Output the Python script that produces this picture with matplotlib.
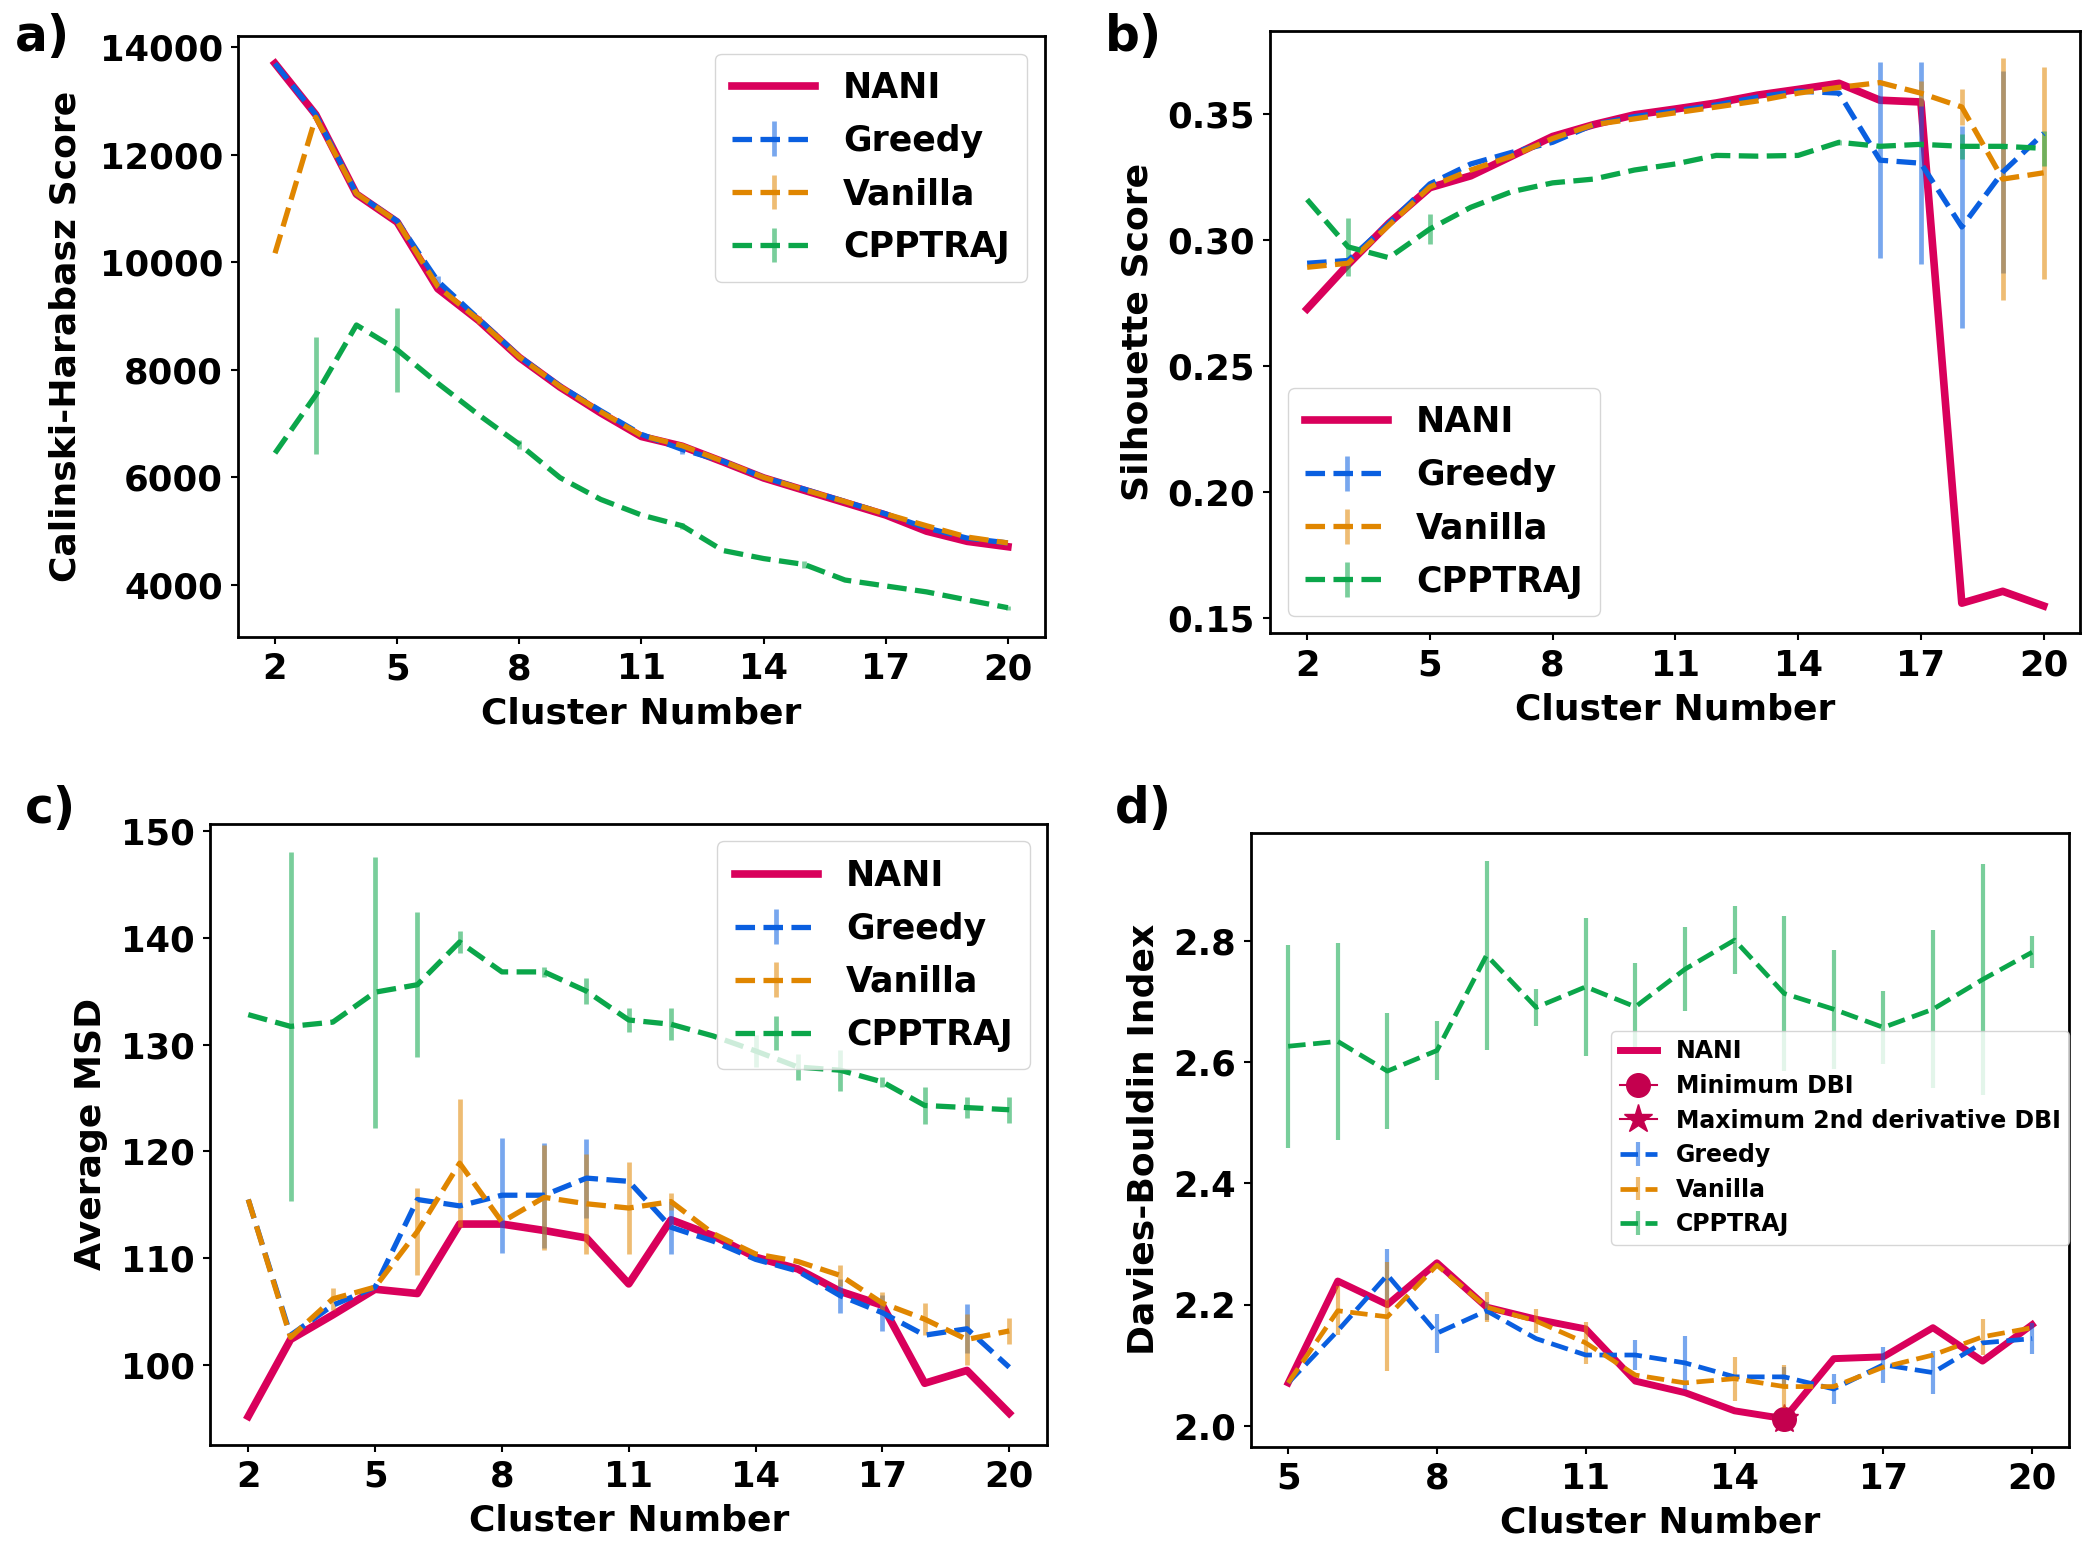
import matplotlib
matplotlib.use('Agg')
import matplotlib.pyplot as plt
from matplotlib.colors import to_rgba
from matplotlib.ticker import FormatStrFormatter

#colours of the four methods
NANI_COLOR = '#D9005B'
GREEDY_COLOR = '#0A5FE0'
VANILLA_COLOR = '#E08600'
CPPTRAJ_COLOR = '#0BA64A'
MARKER_COLOR = '#C4004E'

K_ALL = list(range(2, 21))      #cluster numbers for a), b), c)
K_DBI = list(range(5, 21))      #cluster numbers for d)

# a) Calinski-Harabasz
ch_nani = [13700, 12750, 11270, 10750, 9510, 8920, 8230, 7680, 7200, 6760,
           6580, 6290, 5990, 5760, 5530, 5300, 5000, 4810, 4710]
ch_greedy = [13700, 12750, 11280, 10770, 9650, 8950, 8250, 7700, 7240, 6800,
             6520, 6300, 6000, 5780, 5550, 5320, 5060, 4870, 4780]
ch_greedy_err = [0, 0, 0, 0, 100, 0, 0, 0, 0, 0, 80, 0, 0, 0, 0, 0, 0, 0, 0]
ch_vanilla = [10170, 12700, 11280, 10760, 9550, 8930, 8240, 7690, 7220, 6780,
              6590, 6300, 6000, 5770, 5550, 5320, 5100, 4890, 4780]
ch_vanilla_err = [0, 0, 0, 0, 0, 80, 0, 0, 0, 0, 0, 0, 0, 0, 0, 0, 0, 0, 0]
ch_cpp = [6450, 7530, 8835, 8375, 7750, 7165, 6615, 5995, 5590, 5300,
          5100, 4640, 4490, 4380, 4090, 3980, 3870, 3720, 3575]
ch_cpp_err = [0, 1090, 0, 780, 0, 0, 80, 0, 0, 0, 60, 0, 0, 60, 0, 0, 0, 0, 40]

# b) Silhouette
sil_nani = [0.2727, 0.2903, 0.3067, 0.3208, 0.3255, 0.3333, 0.3411, 0.3458, 0.3497,
            0.3520, 0.3544, 0.3575, 0.3598, 0.3622, 0.3555, 0.3548, 0.1559, 0.1606, 0.1548]
sil_greedy = [0.2908, 0.2919, 0.3067, 0.3223, 0.3302, 0.3348, 0.3388, 0.3458, 0.3490,
              0.3513, 0.3536, 0.3567, 0.3591, 0.3583, 0.3317, 0.3305, 0.3052, 0.3270, 0.3423]
sil_greedy_err = [0, 0, 0, 0, 0, 0, 0, 0, 0, 0, 0, 0, 0, 0, 0.039, 0.040, 0.040, 0.040, 0.0]
sil_vanilla = [0.2892, 0.2908, 0.3059, 0.3211, 0.3278, 0.3333, 0.3403, 0.3458, 0.3481,
               0.3505, 0.3528, 0.3552, 0.3583, 0.3606, 0.3625, 0.3583, 0.3528, 0.3242, 0.3267]
sil_vanilla_err = [0, 0, 0, 0, 0, 0, 0, 0, 0, 0, 0, 0, 0, 0, 0, 0.005, 0.007, 0.048, 0.042]
sil_cpp = [0.3161, 0.2973, 0.2930, 0.3044, 0.3130, 0.3192, 0.3227, 0.3242, 0.3278,
           0.3302, 0.3336, 0.3333, 0.3336, 0.3388, 0.3372, 0.3380, 0.3372, 0.3372, 0.3364]
sil_cpp_err = [0, 0.0115, 0, 0.006, 0, 0, 0, 0, 0, 0, 0, 0, 0, 0.001, 0, 0.001, 0.005, 0.001, 0.007]

# c) Average MSD
msd_nani = [95.2, 102.4, 104.7, 107.1, 106.7, 113.2, 113.2, 112.6, 111.9, 107.6,
            113.6, 112.1, 110.1, 109.0, 106.9, 105.6, 98.3, 99.5, 95.5]
msd_greedy = [115.5, 102.8, 105.6, 107.3, 115.5, 114.9, 115.9, 115.9, 117.5, 117.2,
              112.9, 111.6, 109.9, 108.8, 106.5, 104.9, 102.8, 103.4, 99.8]
msd_greedy_err = [0, 0, 0, 0, 0, 0, 5.4, 4.9, 3.7, 0, 2.5, 0, 0, 0, 1.6, 1.7, 0, 2.3, 0]
msd_vanilla = [115.5, 102.6, 106.2, 107.3, 112.5, 118.9, 113.4, 115.7, 115.1, 114.7,
               115.3, 112.3, 110.4, 109.7, 108.4, 105.8, 104.3, 102.4, 103.2]
msd_vanilla_err = [0, 0, 1.0, 0, 4.1, 6.0, 0, 4.9, 4.7, 4.3, 0.8, 0, 0, 0, 1.0, 1.0, 1.5, 2.4, 1.2]
msd_cpp = [132.8, 131.7, 132.1, 134.9, 135.6, 139.6, 136.8, 136.8, 135.0, 132.3,
           131.9, 130.8, 129.4, 127.9, 127.6, 126.5, 124.3, 124.1, 123.9]
msd_cpp_err = [0, 16.3, 0, 12.7, 6.8, 1.0, 0, 0.5, 1.2, 1.1, 1.5, 0, 1.5, 1.2, 1.9, 0.5, 1.7, 1.0, 1.2]

# d) Davies-Bouldin
dbi_nani = [2.071, 2.239, 2.200, 2.269, 2.196, 2.176, 2.160, 2.074, 2.055, 2.025,
            2.012, 2.111, 2.114, 2.162, 2.107, 2.167]
dbi_greedy = [2.071, 2.157, 2.249, 2.153, 2.190, 2.144, 2.117, 2.117, 2.104, 2.081,
              2.081, 2.061, 2.101, 2.088, 2.137, 2.144]
dbi_greedy_err = [0, 0, 0.042, 0.032, 0.015, 0, 0, 0.025, 0.045, 0, 0.016, 0.025, 0.030, 0.035, 0, 0.025]
dbi_vanilla = [2.071, 2.190, 2.180, 2.265, 2.196, 2.173, 2.137, 2.084, 2.071, 2.078,
               2.065, 2.065, 2.097, 2.117, 2.147, 2.162]
dbi_vanilla_err = [0, 0.040, 0.090, 0, 0.025, 0.020, 0.035, 0, 0, 0.036, 0.036, 0, 0, 0, 0.030, 0]
dbi_cpp = [2.626, 2.634, 2.585, 2.619, 2.776, 2.690, 2.724, 2.691, 2.753, 2.801,
           2.713, 2.687, 2.657, 2.687, 2.736, 2.781]
dbi_cpp_err = [0.167, 0.163, 0.095, 0.049, 0.156, 0.030, 0.114, 0.073, 0.069, 0.056,
               0.128, 0.098, 0.060, 0.130, 0.190, 0.026]
DBI_MIN_K = 15
DBI_2ND_K = 15

plt.rcParams['font.family'] = ['DejaVu Sans']
plt.rcParams['font.weight'] = 'bold'
plt.rcParams['axes.labelweight'] = 'bold'
plt.rcParams['axes.linewidth'] = 2.0

LEGEND_KW = dict(handlelength=2.4, borderpad=0.5, labelspacing=0.55,
                 prop={'weight': 'bold', 'size': 25})


def draw_methods(ax, x, nani, greedy, greedy_err, vanilla, vanilla_err, cpp, cpp_err,
                 lw_nani=5.5, lw=3.8):
    ax.plot(x, nani, color=NANI_COLOR, lw=lw_nani, label='NANI')
    for name, y, err, c in (('Greedy', greedy, greedy_err, GREEDY_COLOR),
                            ('Vanilla', vanilla, vanilla_err, VANILLA_COLOR),
                            ('CPPTRAJ', cpp, cpp_err, CPPTRAJ_COLOR)):
        ax.errorbar(x, y, yerr=err, color=c, ls='--', lw=lw,
                    ecolor=to_rgba(c, 0.55), elinewidth=3.4, capsize=0, label=name)


def style_axis(ax, ylabel, xticks, fs=25.5, ypad=9):
    ax.set_xlabel('Cluster Number', fontsize=26, labelpad=7)
    ax.set_ylabel(ylabel, fontsize=26, labelpad=ypad)
    ax.set_xticks(xticks)
    ax.tick_params(labelsize=fs, width=1.5, length=5, pad=6)
    for lab in ax.get_xticklabels() + ax.get_yticklabels():
        lab.set_fontweight('bold')


def main():
    fig = plt.figure(figsize=(21.0, 15.53), dpi=100)
    ax_a = fig.add_axes([0.1135, 0.5897, 0.3839, 0.3870])
    ax_b = fig.add_axes([0.6049, 0.5922, 0.3858, 0.3880])
    ax_c = fig.add_axes([0.1001, 0.0698, 0.3986, 0.3996])
    ax_d = fig.add_axes([0.5957, 0.0685, 0.3897, 0.3953])

    draw_methods(ax_a, K_ALL, ch_nani, ch_greedy, ch_greedy_err, ch_vanilla, ch_vanilla_err,
                 ch_cpp, ch_cpp_err)
    style_axis(ax_a, 'Calinski-Harabasz Score', range(2, 21, 3), ypad=12)
    ax_a.set_yticks(range(4000, 14001, 2000))
    ax_a.legend(loc='upper right', **LEGEND_KW)

    draw_methods(ax_b, K_ALL, sil_nani, sil_greedy, sil_greedy_err, sil_vanilla, sil_vanilla_err,
                 sil_cpp, sil_cpp_err)
    style_axis(ax_b, 'Silhouette Score', range(2, 21, 3))
    ax_b.set_yticks([0.15, 0.20, 0.25, 0.30, 0.35])
    ax_b.yaxis.set_major_formatter(FormatStrFormatter('%.2f'))
    ax_b.legend(loc='lower left', **LEGEND_KW)

    draw_methods(ax_c, K_ALL, msd_nani, msd_greedy, msd_greedy_err, msd_vanilla, msd_vanilla_err,
                 msd_cpp, msd_cpp_err)
    style_axis(ax_c, 'Average MSD', range(2, 21, 3))
    ax_c.set_yticks(range(100, 151, 10))
    ax_c.legend(loc='upper right', **LEGEND_KW)

    #d) has the two NANI markers in between NANI and the other methods
    ax_d.plot(K_DBI, dbi_nani, color=NANI_COLOR, lw=5, label='NANI')
    i_min = K_DBI.index(DBI_MIN_K)
    i_2nd = K_DBI.index(DBI_2ND_K)
    ax_d.plot([DBI_MIN_K], [dbi_nani[i_min]], marker='o', ms=17, color=MARKER_COLOR,
              lw=1.5, label='Minimum DBI')
    ax_d.plot([DBI_2ND_K], [dbi_nani[i_2nd]], marker='*', ms=21, color=MARKER_COLOR,
              lw=1.5, label='Maximum 2nd derivative DBI')
    for name, y, err, c in (('Greedy', dbi_greedy, dbi_greedy_err, GREEDY_COLOR),
                            ('Vanilla', dbi_vanilla, dbi_vanilla_err, VANILLA_COLOR),
                            ('CPPTRAJ', dbi_cpp, dbi_cpp_err, CPPTRAJ_COLOR)):
        ax_d.errorbar(K_DBI, y, yerr=err, color=c, ls='--', lw=3.4,
                      ecolor=to_rgba(c, 0.55), elinewidth=3.0, capsize=0, label=name)
    style_axis(ax_d, 'Davies-Bouldin Index', range(5, 21, 3))
    ax_d.set_yticks([2.0, 2.2, 2.4, 2.6, 2.8])
    ax_d.yaxis.set_major_formatter(FormatStrFormatter('%.1f'))
    ax_d.legend(loc='upper right', bbox_to_anchor=(1.0, 0.677), borderaxespad=0,
                handlelength=1.6, borderpad=0.35, labelspacing=0.45,
                prop={'weight': 'bold', 'size': 17})

    for lab, xy in (('a)', (0.007, 0.976)), ('b)', (0.526, 0.976)),
                    ('c)', (0.012, 0.479)), ('d)', (0.531, 0.479))):
        fig.text(xy[0], xy[1], lab, fontsize=35, fontweight='bold', va='center', ha='left')

    fig.savefig('out.png', dpi=100)


if __name__ == '__main__':
    main()
